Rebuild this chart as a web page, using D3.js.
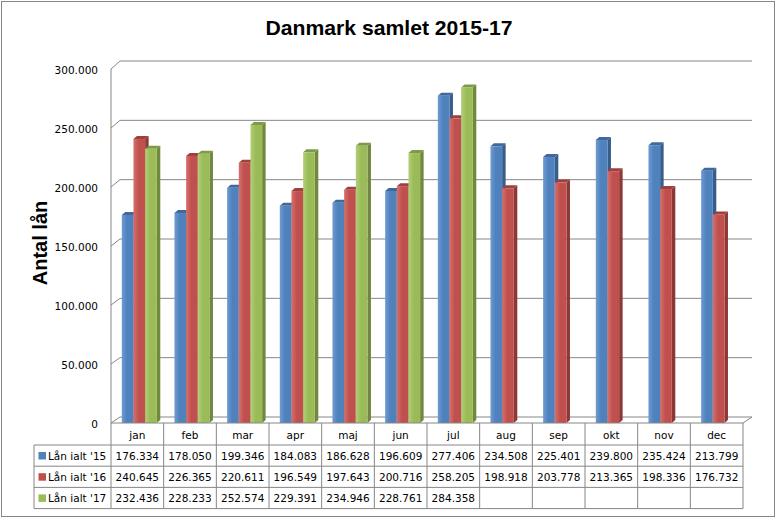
<!DOCTYPE html>
<html>
<head>
<meta charset="utf-8">
<script src="https://cdn.jsdelivr.net/npm/d3@7"></script>
<style>
  body { margin: 0; background: #fff; }
  svg { display: block; }
  text { font-family: "DejaVu Sans", Verdana, sans-serif; fill: #000; }
</style>
</head>
<body>
<div id="chart"></div>
<script>
// chart data
const months = ['jan', 'feb', 'mar', 'apr', 'maj', 'jun', 'jul', 'aug', 'sep', 'okt', 'nov', 'dec'];
const seriesNames = ["Lån ialt '15", "Lån ialt '16", "Lån ialt '17"];
const laan15 = [176334, 178050, 199346, 184083, 186628, 196609, 277406, 234508, 225401, 239800, 235424, 213799];
const laan16 = [240645, 226365, 220611, 196549, 197643, 200716, 258205, 198918, 203778, 213365, 198336, 176732];
const laan17 = [232436, 228233, 252574, 229391, 234946, 228761, 284358, null, null, null, null, null];
const yTicks = [0, 50000, 100000, 150000, 200000, 250000, 300000];

const seriesValues = [laan15, laan16, laan17];
const fronts = ['#4f81bd', '#c0504d', '#9bbb59'];
const lights = ['#6f9bd1', '#d6706d', '#b2cf78'];
const sides = ['#385d8a', '#8c3836', '#71893f'];
const tops = ['#41689b', '#a0403d', '#7e9a47'];

const W = 777, H = 519;
const grid = '#868686';
const dk = d3.formatLocale({ decimal: ',', thousands: '.', grouping: [3], currency: ['', ''] });
const fmt = dk.format(',d');

const svg = d3.select('#chart').append('svg').attr('width', W).attr('height', H);

// gradients for the bar fronts
const defs = svg.append('defs');
fronts.forEach((c, i) => {
  const g = defs.append('linearGradient').attr('id', 'grad' + i).attr('x1', 0).attr('x2', 1).attr('y1', 0).attr('y2', 0);
  g.append('stop').attr('offset', '0%').attr('stop-color', lights[i]);
  g.append('stop').attr('offset', '45%').attr('stop-color', c);
  g.append('stop').attr('offset', '100%').attr('stop-color', c);
});

// outer frame
svg.append('rect').attr('x', 1.5).attr('y', 1.5).attr('width', 773).attr('height', 515)
  .attr('fill', '#fff').attr('stroke', grid);

// title
svg.append('text').attr('x', 389).attr('y', 35).attr('text-anchor', 'middle')
  .attr('textLength', 247).attr('lengthAdjust', 'spacingAndGlyphs')
  .style('font-family', '"Liberation Sans", Arial, sans-serif')
  .style('font-weight', 'bold').style('font-size', '21px')
  .text('Danmark samlet 2015-17');

// axis title
svg.append('text').attr('transform', 'translate(47,243) rotate(-90)').attr('text-anchor', 'middle')
  .style('font-family', '"Liberation Sans", Arial, sans-serif')
  .style('font-weight', 'bold').style('font-size', '20px')
  .text('Antal lån');

// scales
const left = 111, right = 743;
const depthX = 9;
const x0 = d3.scaleBand().domain(months).range([left, right]);
const x1 = d3.scaleBand().domain(seriesNames).range([10.8, 45.8]);
const yF = d3.scaleLinear().domain([0, 300000]).range([423, 69]);
const yB = d3.scaleLinear().domain([0, 300000]).range([417, 61]);

// walls: gridlines on back wall + diagonals on side wall
const wall = svg.append('g').attr('stroke', grid).attr('fill', 'none');
wall.selectAll('.gl').data(yTicks).enter().append('line')
  .attr('x1', left + depthX).attr('x2', right + depthX)
  .attr('y1', d => yB(d)).attr('y2', d => yB(d));
wall.selectAll('.dg').data(yTicks).enter().append('line')
  .attr('x1', left).attr('x2', left + depthX)
  .attr('y1', d => yF(d)).attr('y2', d => yB(d));
// floor right edge
wall.append('line').attr('x1', right).attr('x2', right + depthX).attr('y1', yF(0)).attr('y2', yB(0));
// axis line
wall.append('line').attr('x1', left).attr('x2', left).attr('y1', yF(300000)).attr('y2', 508);

// tick labels
svg.append('g').selectAll('text').data(yTicks).enter().append('text')
  .attr('x', 98).attr('y', d => yF(d) + 5).attr('text-anchor', 'end')
  .style('font-size', '10.5px').text(d => fmt(d));

// bars (side, top, front) per category, series in order
const bdx = 3.5, bdy = 3;
const bw = x1.bandwidth();
const bars = svg.append('g');
months.forEach((m, mi) => {
  seriesValues.forEach((vals, si) => {
    const v = vals[mi];
    if (v == null) return;
    const x = x0(m) + x1(seriesNames[si]);
    const yt = yF(v), yb = yF(0);
    const g = bars.append('g');
    g.append('path').attr('fill', sides[si])
      .attr('d', `M${x + bw},${yb} L${x + bw + bdx},${yb - bdy} L${x + bw + bdx},${yt - bdy} L${x + bw},${yt} Z`);
    g.append('path').attr('fill', tops[si])
      .attr('d', `M${x},${yt} L${x + bdx},${yt - bdy} L${x + bw + bdx},${yt - bdy} L${x + bw},${yt} Z`);
    g.append('rect').attr('x', x).attr('y', yt).attr('width', bw).attr('height', yb - yt)
      .attr('fill', `url(#grad${si})`);
  });
});

// data table
const rowTop = 423, headH = 22, rowH = 21.2;
const tableLeft = 34;
const rowY = i => rowTop + headH + i * rowH;
const tbl = svg.append('g').attr('stroke', grid).attr('fill', 'none');
tbl.append('line').attr('x1', left).attr('x2', right).attr('y1', rowTop).attr('y2', rowTop);
d3.range(4).forEach(i => {
  tbl.append('line').attr('x1', tableLeft).attr('x2', right).attr('y1', rowY(i)).attr('y2', rowY(i));
});
tbl.append('line').attr('x1', tableLeft).attr('x2', tableLeft).attr('y1', rowY(0)).attr('y2', rowY(3));
tbl.selectAll('.vl').data(months).enter().append('line')
  .attr('x1', d => x0(d) + x0.bandwidth()).attr('x2', d => x0(d) + x0.bandwidth())
  .attr('y1', rowTop).attr('y2', rowY(3));

svg.append('g').selectAll('text').data(months).enter().append('text')
  .attr('x', d => x0(d) + x0.bandwidth() / 2).attr('y', rowTop + 16).attr('text-anchor', 'middle')
  .style('font-size', '10.5px').text(d => d);

seriesNames.forEach((name, si) => {
  const y = rowY(si);
  svg.append('rect').attr('x', 38.5).attr('y', y + 7).attr('width', 7.5).attr('height', 7.5).attr('fill', fronts[si]);
  svg.append('text').attr('x', 48).attr('y', y + 15).style('font-size', '10.5px').text(name);
  svg.append('g').selectAll('text').data(months).enter().append('text')
    .attr('x', d => x0(d) + x0.bandwidth() / 2).attr('y', y + 15).attr('text-anchor', 'middle')
    .style('font-size', '10.5px')
    .text((d, i) => seriesValues[si][i] == null ? '' : fmt(seriesValues[si][i]));
});
</script>
</body>
</html>
